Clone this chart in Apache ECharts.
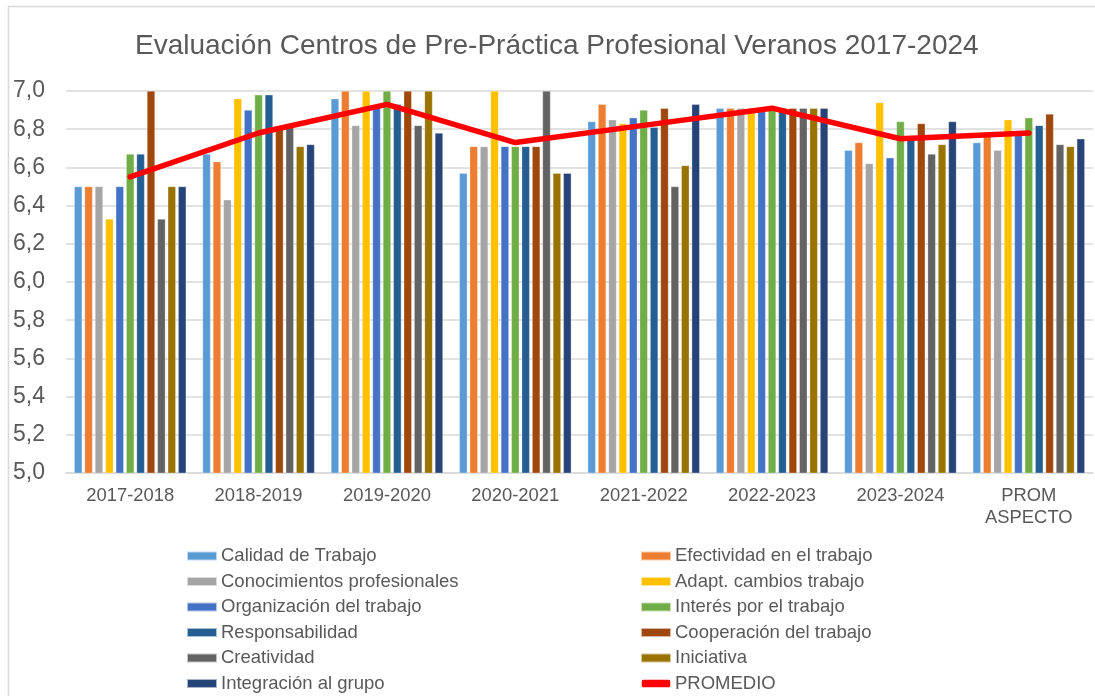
<!DOCTYPE html>
<html>
<head>
<meta charset="utf-8">
<script src="https://cdn.jsdelivr.net/npm/echarts@6/dist/echarts.min.js"></script>
<style>
  html, body { margin: 0; padding: 0; background: #fff; }
  #chart { width: 1095px; height: 696px; }
</style>
</head>
<body>
<div id="chart"></div>
<script>
const categories = ['2017-2018', '2018-2019', '2019-2020', '2020-2021', '2021-2022', '2022-2023', '2023-2024', 'PROM\nASPECTO'];
const calidad = [6.50, 6.67, 6.96, 6.57, 6.84, 6.91, 6.69, 6.73];
const efectividad = [6.50, 6.63, 7.00, 6.71, 6.93, 6.91, 6.73, 6.77];
const conocimientos = [6.50, 6.43, 6.82, 6.71, 6.85, 6.91, 6.62, 6.69];
const adaptacion = [6.33, 6.96, 7.00, 7.00, 6.83, 6.91, 6.94, 6.85];
const organizacion = [6.50, 6.90, 6.92, 6.71, 6.86, 6.91, 6.65, 6.78];
const interes = [6.67, 6.98, 7.00, 6.71, 6.90, 6.91, 6.84, 6.86];
const responsabilidad = [6.67, 6.98, 6.93, 6.71, 6.81, 6.91, 6.75, 6.82];
const cooperacion = [7.00, 6.80, 7.00, 6.71, 6.91, 6.91, 6.83, 6.88];
const creatividad = [6.33, 6.81, 6.82, 7.00, 6.50, 6.91, 6.67, 6.72];
const iniciativa = [6.50, 6.71, 7.00, 6.57, 6.61, 6.91, 6.72, 6.71];
const integracion = [6.50, 6.72, 6.78, 6.57, 6.93, 6.91, 6.84, 6.75];
const promedio = [6.55, 6.78, 6.93, 6.73, 6.82, 6.91, 6.75, 6.78];

const barSeries = [
  ['Calidad de Trabajo', calidad, '#5B9BD5'],
  ['Efectividad en el trabajo', efectividad, '#ED7D31'],
  ['Conocimientos profesionales', conocimientos, '#A5A5A5'],
  ['Adapt. cambios trabajo', adaptacion, '#FFC000'],
  ['Organización del trabajo', organizacion, '#4472C4'],
  ['Interés por el trabajo', interes, '#70AD47'],
  ['Responsabilidad', responsabilidad, '#255E91'],
  ['Cooperación del trabajo', cooperacion, '#9E480E'],
  ['Creatividad', creatividad, '#636363'],
  ['Iniciativa', iniciativa, '#997300'],
  ['Integración al grupo', integracion, '#264478']
];

const series = barSeries.map(function (s) {
  return {
    name: s[0],
    type: 'bar',
    data: s[1],
    barWidth: 8,
    barGap: '30%',
    itemStyle: { color: s[2], borderColor: 'rgba(255,255,255,0.6)', borderWidth: 0.5 }
  };
});
series.push({
  name: 'PROMEDIO',
  type: 'line',
  data: promedio,
  symbol: 'none',
  z: 5,
  lineStyle: { color: '#FF0000', width: 5.5, cap: 'round', join: 'round' },
  itemStyle: { color: '#FF0000' }
});

// legend items: bars as flat rectangles, the line as a thick rounded stroke
function legendItem(name) {
  if (name === 'PROMEDIO') {
    return { name: name, icon: 'roundRect', itemStyle: { color: '#FF0000', borderColor: '#fff', borderWidth: 1.5 } };
  }
  return { name: name, icon: 'rect' };
}
const leftNames = [0, 2, 4, 6, 8, 10].map(function (i) { return barSeries[i][0]; });
const rightNames = [1, 3, 5, 7, 9].map(function (i) { return barSeries[i][0]; });
rightNames.push('PROMEDIO');

const legendBase = {
  orient: 'vertical',
  top: 546,
  padding: 0,
  itemWidth: 30,
  itemHeight: 9,
  itemGap: 5.5,
  textStyle: { fontFamily: 'Liberation Sans', fontSize: 18.5, color: '#595959', lineHeight: 20, padding: [0, 0, 0, -1] }
};

const chart = echarts.init(document.getElementById('chart'));
chart.setOption({
  animation: false,
  textStyle: { fontFamily: 'Liberation Sans' },
  title: {
    text: 'Evaluación Centros de Pre-Práctica Profesional Veranos 2017-2024',
    left: 130,
    top: 27,
    textStyle: { fontFamily: 'Liberation Sans', fontSize: 28, fontWeight: 'normal', color: '#595959' }
  },
  graphic: [{
    type: 'rect',
    shape: { x: 8.5, y: 6.5, width: 1100, height: 700 },
    style: { fill: 'none', stroke: '#D9D9D9', lineWidth: 1.5 },
    silent: true
  }],
  legend: [
    Object.assign({}, legendBase, { left: 186, data: leftNames.map(legendItem) }),
    Object.assign({}, legendBase, { left: 640, data: rightNames.map(legendItem) })
  ],
  grid: { left: 66, right: 2, top: 91, bottom: 223 },
  xAxis: {
    type: 'category',
    data: categories,
    axisTick: { show: false },
    axisLine: { lineStyle: { color: '#D9D9D9', width: 1.5 } },
    axisLabel: { color: '#595959', fontSize: 18.4, margin: 12, lineHeight: 22, interval: 0 }
  },
  yAxis: {
    type: 'value',
    min: 5,
    max: 7,
    interval: 0.2,
    axisLine: { show: false },
    axisTick: { show: false },
    splitLine: { lineStyle: { color: '#D9D9D9', width: 1.5 } },
    axisLabel: {
      color: '#595959',
      fontSize: 23,
      margin: 21,
      formatter: function (v) { return v.toFixed(1).replace('.', ','); }
    }
  },
  series: series
});
</script>
</body>
</html>
